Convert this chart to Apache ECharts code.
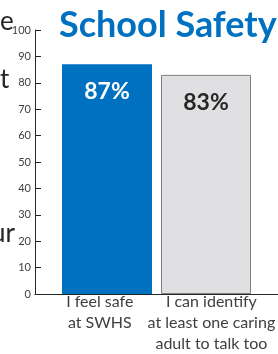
<!DOCTYPE html>
<html>
<head>
<meta charset="utf-8">
<script src="https://cdn.jsdelivr.net/npm/echarts@6/dist/echarts.min.js"></script>
<style>
  html, body { margin: 0; padding: 0; background: #fff; }
  #chart { width: 278px; height: 354px; }
</style>
</head>
<body>
<div id="chart"></div>
<script>
// data
var categories = ['I feel safe\nat SWHS', 'I can identify\nat least one caring\nadult to talk too'];
var values = [87, 83];
var valueLabels = ['87%', '83%'];
var yTicks = {min: 0, max: 100, step: 10};

var myChart = echarts.init(document.getElementById('chart'));
var font = 'Lato, "Open Sans", sans-serif';

// two bars sit in a single category so their gap can be tuned
var barStyles = [
    {color: '#0070c0', borderWidth: 0},
    {color: '#e0e0e2', borderColor: '#7f7f7f', borderWidth: 1}
];
var labelColors = ['#ffffff', '#262626'];

var series = values.map(function (v, i) {
    return {
        type: 'bar',
        xAxisIndex: 0,
        yAxisIndex: 0,
        barWidth: 90,
        barGap: '10%',
        data: [v],
        itemStyle: barStyles[i],
        label: {
            show: true,
            position: 'insideTop',
            distance: 16,
            formatter: valueLabels[i],
            color: labelColors[i],
            fontFamily: font,
            fontWeight: 'bold',
            fontSize: 23
        },
        silent: true
    };
});

var option = {
    animation: false,
    title: {
        text: 'School Safety',
        left: 54,
        top: 2,
        textStyle: {
            color: '#0070c0',
            fontFamily: font,
            fontWeight: 'bold',
            fontSize: 36
        }
    },
    graphic: [
        // bits of text from the neighbouring panel, cut by the frame
        {type: 'text', left: 0, top: 9, style: {text: 'e', fill: '#262626', font: '26px ' + font}},
        {type: 'text', left: 0, top: 67, style: {text: 't', fill: '#262626', font: '26px ' + font}},
        {type: 'text', left: -9, top: 221, style: {text: 'ur', fill: '#262626', font: '26px ' + font}}
    ],
    grid: [
        {left: 35, right: 0, top: 30, bottom: 60},
        {left: 44, right: 10, top: 30, bottom: 60}
    ],
    xAxis: [
        {
            gridIndex: 0,
            type: 'category',
            data: [''],
            axisLine: {lineStyle: {color: '#262626', width: 1}},
            axisTick: {show: false},
            axisLabel: {show: false}
        },
        {
            gridIndex: 1,
            type: 'category',
            data: categories,
            axisLine: {show: false},
            axisTick: {show: false},
            axisLabel: {
                interval: 0,
                margin: 4,
                color: '#404040',
                fontFamily: font,
                fontSize: 16,
                lineHeight: 21
            }
        }
    ],
    yAxis: [
        {
            gridIndex: 0,
            type: 'value',
            min: yTicks.min,
            max: yTicks.max,
            interval: yTicks.step,
            axisLine: {show: true, lineStyle: {color: '#262626', width: 1}},
            axisTick: {show: true, inside: true, length: 6, lineStyle: {color: '#262626'}},
            splitLine: {show: false},
            axisLabel: {
                margin: 4,
                color: '#404040',
                fontFamily: font,
                fontSize: 11
            }
        },
        {
            gridIndex: 1,
            type: 'value',
            min: yTicks.min,
            max: yTicks.max,
            show: false
        }
    ],
    series: series
};

myChart.setOption(option);
</script>
</body>
</html>
